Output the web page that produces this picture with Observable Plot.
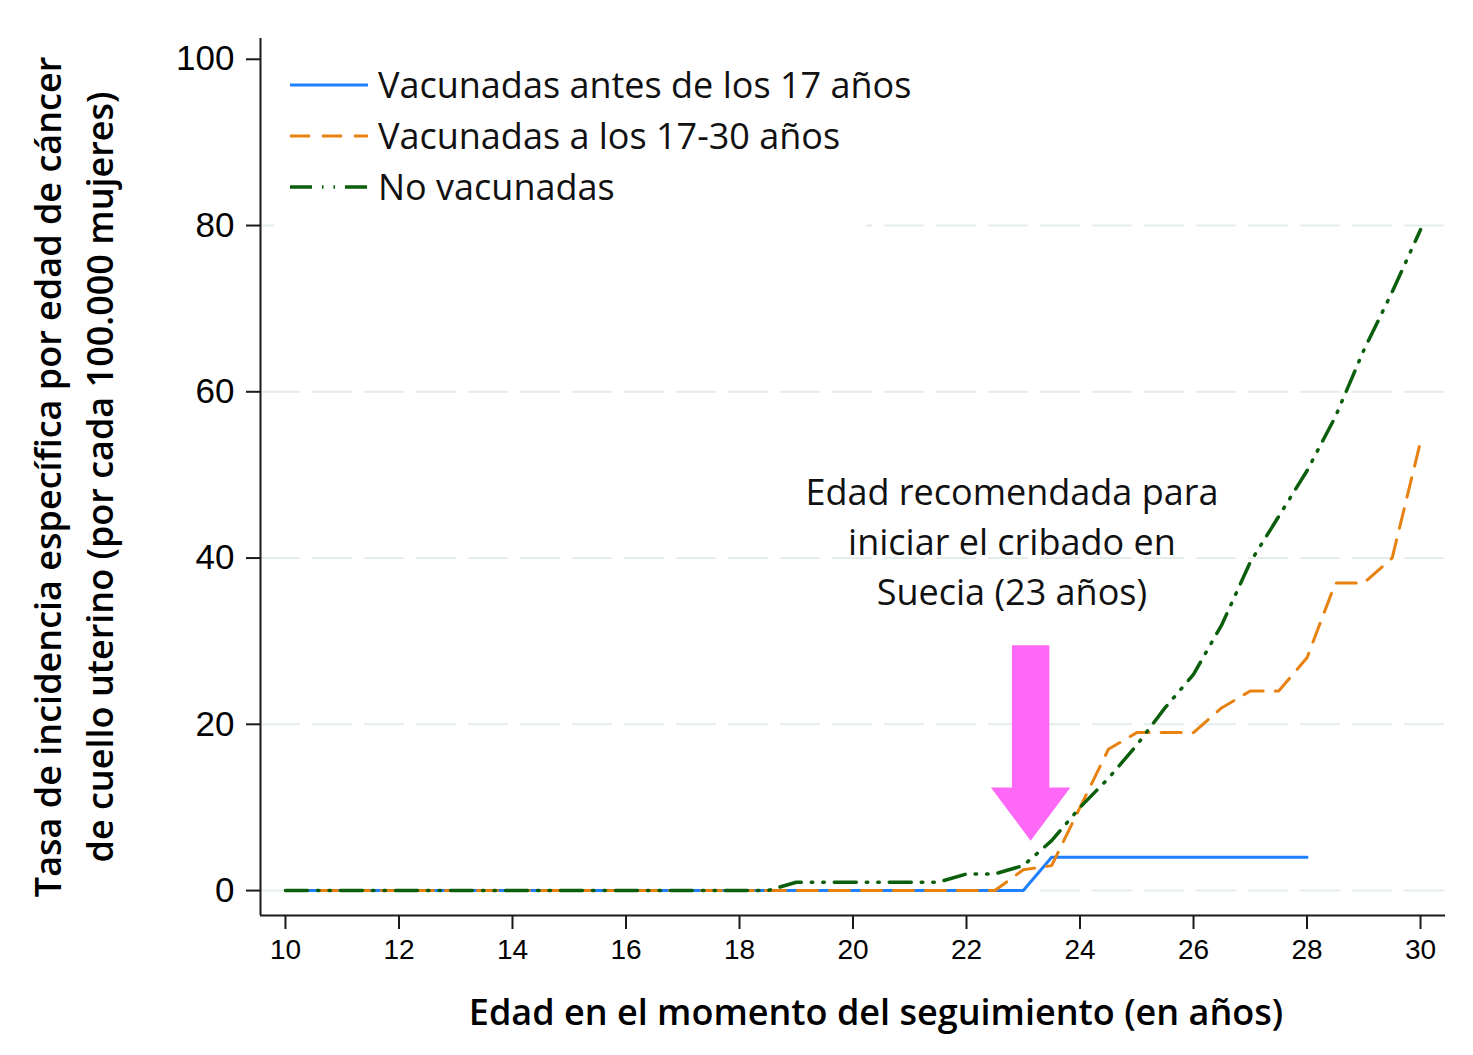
<!DOCTYPE html>
<html><head><meta charset="utf-8">
<script src="https://cdn.jsdelivr.net/npm/d3@7"></script>
<script src="https://cdn.jsdelivr.net/npm/@observablehq/plot@0.6"></script>
<style>body{margin:0;background:#fff} #chart{width:1473px;height:1055px}</style>
</head><body><div id="chart"></div>
<script>
// ---- data ----
const ages = [10, 10.5, 11, 11.5, 12, 12.5, 13, 13.5, 14, 14.5, 15, 15.5, 16, 16.5, 17, 17.5, 18, 18.5, 19, 19.5, 20, 20.5, 21, 21.5, 22, 22.5, 23, 23.5, 24, 24.5, 25, 25.5, 26, 26.5, 27, 27.5, 28, 28.5, 29, 29.5, 30];
// Vacunadas antes de los 17 años (hasta 28 años)
const antes17 = [0, 0, 0, 0, 0, 0, 0, 0, 0, 0, 0, 0, 0, 0, 0, 0, 0, 0, 0, 0, 0, 0, 0, 0, 0, 0, 0, 4, 4, 4, 4, 4, 4, 4, 4, 4, 4];
// Vacunadas a los 17-30 años
const entre17y30 = [0, 0, 0, 0, 0, 0, 0, 0, 0, 0, 0, 0, 0, 0, 0, 0, 0, 0, 0, 0, 0, 0, 0, 0, 0, 0, 2.5, 3, 10, 17, 19, 19, 19, 22, 24, 24, 28, 37, 37, 40, 54];
// No vacunadas
const noVacunadas = [0, 0, 0, 0, 0, 0, 0, 0, 0, 0, 0, 0, 0, 0, 0, 0, 0, 0, 1, 1, 1, 1, 1, 1, 2, 2, 3, 6, 10, 13.5, 17.5, 22, 26, 32, 39.5, 45, 50.5, 57, 65, 72, 79.5];

const seriesNames = ["Vacunadas antes de los 17 años", "Vacunadas a los 17-30 años", "No vacunadas"];
const seriesValues = [antes17, entre17y30, noVacunadas];
const seriesColors = ["#1f80ff", "#e8810f", "#0b5e0b"];
const seriesDash = [null, "20,12", "22,10,1.5,10,1.5,10"];
const seriesWidth = [3, 3, 3.5];

const xTicks = [10, 12, 14, 16, 18, 20, 22, 24, 26, 28, 30];
const yTicks = [0, 20, 40, 60, 80, 100];
const gridValues = [0, 20, 40, 60, 80];
const xDomain = [9.56, 30.44];
const yDomain = [-3, 102.5];

const yLabelLines = ["Tasa de incidencia específica por edad de cáncer", "de cuello uterino (por cada 100.000 mujeres)"];
const xLabel = "Edad en el momento del seguimiento (en años)";
const annotationText = "Edad recomendada para\niniciar el cribado en\nSuecia (23 años)";
const annotationAt = [{age: 22.8, rate: 42.3, text: annotationText}];
// arrow (data units)
const arrowAge = 23.13, arrowTop = 29.5, arrowHeadBase = 12.4, arrowTip = 6.0, arrowShaftHalf = 0.33, arrowHeadHalf = 0.7;
const arrowColor = "#fd68f6";

// ---- build ----
const rows = seriesValues.flatMap((vals, i) => vals.map((v, j) => ({age: ages[j], rate: v, s: i})));
const arrowPts = [
  [arrowAge - arrowShaftHalf, arrowTop], [arrowAge + arrowShaftHalf, arrowTop],
  [arrowAge + arrowShaftHalf, arrowHeadBase], [arrowAge + arrowHeadHalf, arrowHeadBase],
  [arrowAge, arrowTip], [arrowAge - arrowHeadHalf, arrowHeadBase],
  [arrowAge - arrowShaftHalf, arrowHeadBase], [arrowAge - arrowShaftHalf, arrowTop]
].map(([a, r]) => ({age: a, rate: r}));

const axisColor = "#1a1a1a";
const plot = Plot.plot({
  width: 1473, height: 1055,
  marginLeft: 260, marginRight: 28, marginTop: 38, marginBottom: 140,
  style: {fontFamily: "'Open Sans', sans-serif", background: "white", color: "#000"},
  x: {domain: xDomain},
  y: {domain: yDomain},
  marks: [
    Plot.ruleY(gridValues, {stroke: "#e4ecec", strokeWidth: 2, strokeDasharray: "40,12"}),
    ...seriesValues.map((_, i) => Plot.line(rows.filter(d => d.s === i), {
      x: "age", y: "rate", stroke: seriesColors[i], strokeWidth: seriesWidth[i],
      strokeDasharray: seriesDash[i] ?? undefined, strokeLinejoin: "round"
    })),
    Plot.line(arrowPts, {x: "age", y: "rate", fill: arrowColor, stroke: "none"}),
    Plot.text(annotationAt, {x: "age", y: "rate", text: "text", fontSize: 36, lineHeight: 1.4, fill: "#111", textAnchor: "middle", lineAnchor: "middle"}),
    Plot.ruleX([xDomain[0]], {stroke: axisColor, strokeWidth: 2}),
    Plot.ruleY([yDomain[0]], {stroke: axisColor, strokeWidth: 2}),
    Plot.axisY({ticks: yTicks, tickSize: 14, tickPadding: 12, fontSize: 35, fontFamily: "'Liberation Sans', Arial, sans-serif", label: null, stroke: axisColor, strokeWidth: 2}),
    Plot.axisX({ticks: xTicks, tickSize: 14, tickPadding: 10, fontSize: 28, fontFamily: "'Liberation Sans', Arial, sans-serif", label: null, stroke: axisColor, strokeWidth: 2}),
    Plot.text([yLabelLines[0]], {frameAnchor: "left", rotate: -90, dx: -211, textAnchor: "middle", lineAnchor: "middle", fontSize: 36, fontWeight: 600, fill: "#000", text: d => d}),
    Plot.text([yLabelLines[1]], {frameAnchor: "left", rotate: -90, dx: -159, textAnchor: "middle", lineAnchor: "middle", fontSize: 36, fontWeight: 600, fill: "#000", text: d => d}),
    Plot.text([xLabel], {frameAnchor: "bottom", dy: 98, dx: 23, textAnchor: "middle", lineAnchor: "middle", fontSize: 36, fontWeight: 600, fill: "#000", text: d => d})
  ]
});
document.getElementById("chart").appendChild(plot);

// legend inside the plot frame
const svg = d3.select(plot);
const lg = svg.append("g").attr("class", "legend").attr("text-anchor", "start");
lg.append("rect").attr("x", 274).attr("y", 45).attr("width", 592).attr("height", 190).attr("fill", "white");
const legendY = [85, 136, 187];
seriesNames.forEach((name, i) => {
  lg.append("line").attr("x1", 290).attr("x2", 368).attr("y1", legendY[i]).attr("y2", legendY[i])
    .attr("stroke", seriesColors[i]).attr("stroke-width", seriesWidth[i])
    .attr("stroke-dasharray", seriesDash[i]);
  lg.append("text").attr("x", 378).attr("y", legendY[i]).attr("dy", "0.35em").attr("text-anchor", "start")
    .attr("font-size", 36).attr("font-family", "'Open Sans', sans-serif").attr("fill", "#111").text(name);
});
</script>
</body></html>
